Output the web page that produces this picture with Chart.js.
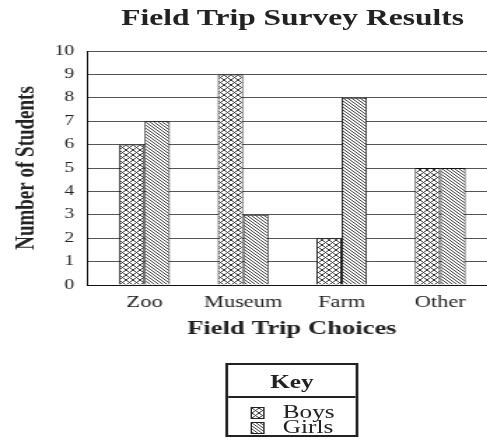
<!DOCTYPE html>
<html>
<head>
<meta charset="utf-8">
<script src="https://cdn.jsdelivr.net/npm/chart.js@4"></script>
<style>
  html, body { margin: 0; padding: 0; overflow: hidden; background: #fff; }
  /* the reference is stretched sideways, so draw narrow and scale up */
  #wrap { position: absolute; left: 0; top: 0; width: 419px; height: 447px; transform: scaleX(1.4); transform-origin: 0 0; }
  #title { position: absolute; left: 0; top: 5px; width: 418px; text-align: center; font: bold 22.5px "Liberation Serif", serif; color: #222; }
  #key { position: absolute; left: 161px; top: 363px; width: 95px; height: 74px; border: 2px solid #222; box-sizing: border-box;
         font-family: "Liberation Serif", serif; color: #222; }
  #key .head { height: 31px; border-bottom: 2px solid #222; text-align: center; font-weight: bold; font-size: 18px; line-height: 34px; }
  #key .row { position: relative; height: 15px; font-size: 18px; line-height: 15px; }
  #key .sw { position: absolute; left: 16px; top: 2px; width: 8px; height: 10px; border: 1px solid #222; }
  #key .lab { position: absolute; left: 39px; top: 0; }
</style>
</head>
<body>
<div id="wrap">
  <canvas id="chart" width="419" height="345"></canvas>
  <div id="title">Field Trip Survey Results</div>
  <div id="key">
    <div class="head">Key</div>
    <div class="row" style="margin-top:7px"><span class="sw" id="swBoys"></span><span class="lab">Boys</span></div>
    <div class="row"><span class="sw" id="swGirls"></span><span class="lab">Girls</span></div>
  </div>
</div>
<script>
// data
const choices = ['Zoo', 'Museum', 'Farm', 'Other'];
const boys = [6, 9, 2, 5];
const girls = [7, 3, 8, 5];
const yTicks = [0, 1, 2, 3, 4, 5, 6, 7, 8, 9, 10];

// pattern tiles
function makeTile(size, color, draw) {
    const c = document.createElement('canvas');
    c.width = size; c.height = size;
    const g = c.getContext('2d');
    g.fillStyle = '#fff';
    g.fillRect(0, 0, size, size);
    g.fillStyle = color;
    draw(g, size);
    return c;
}
const crossTile = makeTile(5, '#3a3a3a', (g, n) => {
    for (let i = 0; i < n; i++) {
        g.fillRect(i, i, 1, 1);
        g.fillRect(n - 1 - i, i, 1, 1);
    }
});
const diagTile = makeTile(3, '#444', (g, n) => {
    for (let i = 0; i < n; i++) g.fillRect(i, i, 1, 1);
});

const ctx = document.getElementById('chart').getContext('2d');
const boysFill = ctx.createPattern(crossTile, 'repeat');
const girlsFill = ctx.createPattern(diagTile, 'repeat');

document.getElementById('swBoys').style.background = `url(${crossTile.toDataURL()})`;
document.getElementById('swGirls').style.background = `url(${diagTile.toDataURL()})`;

const serif = 'Liberation Serif';

new Chart(ctx, {
    type: 'bar',
    data: {
        datasets: [
            { label: 'Boys', data: boys.map((v, i) => ({ x: i, y: v })), backgroundColor: boysFill, borderColor: '#111', borderWidth: 1 },
            { label: 'Girls', data: girls.map((v, i) => ({ x: i, y: v })), backgroundColor: girlsFill, borderColor: '#111', borderWidth: 1 }
        ]
    },
    options: {
        responsive: false,
        animation: false,
        devicePixelRatio: 1,
        categoryPercentage: 0.515,
        barPercentage: 1.0,
        layout: { padding: { left: 8, right: 64, top: 51, bottom: 5 } },
        plugins: {
            legend: { display: false },
            tooltip: { enabled: false },
            title: { display: false }
        },
        scales: {
            x: {
                type: 'linear',
                min: -0.586,
                max: 3.576,
                offset: false,
                grid: { display: false, offset: false },
                border: { display: true, color: '#111', width: 1 },
                afterBuildTicks: (s) => { s.ticks = choices.map((c, i) => ({ value: i })); },
                ticks: {
                    color: '#222',
                    padding: 0,
                    font: { family: serif, size: 16 },
                    callback: (v) => choices[v]
                },
                title: {
                    display: true,
                    text: 'Field Trip Choices',
                    color: '#222',
                    font: { family: serif, size: 19, weight: 'bold' },
                    padding: { top: 5, bottom: 0 }
                }
            },
            y: {
                min: 0,
                max: 10,
                afterBuildTicks: (s) => { s.ticks = yTicks.map(v => ({ value: v })); },
                afterFit: (s) => { s.width = 54; },
                grid: { color: '#555', lineWidth: 1, drawTicks: false },
                border: { display: true, color: '#111', width: 1 },
                ticks: {
                    color: '#222',
                    padding: 9,
                    font: { family: serif, size: 14 }
                },
                title: {
                    display: true,
                    text: 'Number of Students',
                    color: '#222',
                    font: { family: serif, size: 19, weight: 'bold' },
                    padding: { top: 0, bottom: 0 }
                }
            }
        }
    }
});
</script>
</body>
</html>
